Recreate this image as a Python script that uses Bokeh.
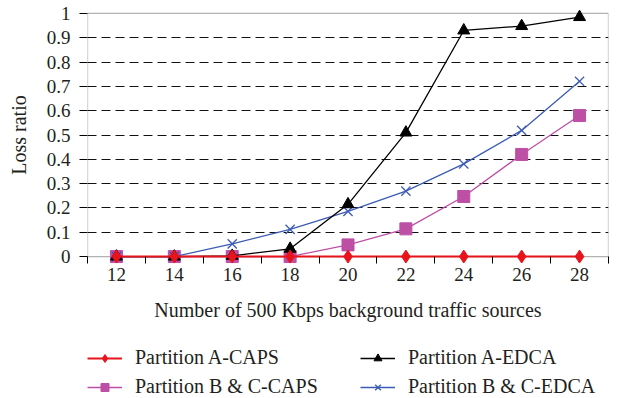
from bokeh.plotting import figure
from bokeh.layouts import column
from bokeh.models import (Range1d, FixedTicker, BoxAnnotation, Legend, LegendItem, ColumnDataSource)
from bokeh.embed import file_html
from bokeh.resources import INLINE

x = [12, 14, 16, 18, 20, 22, 24, 26, 28]
x_tick_labels = ["12", "14", "16", "18", "20", "22", "24", "26", "28"]
a_caps = [0, 0, 0, 0, 0, 0, 0, 0, 0]
a_edca = [0, 0, 0.003, 0.032, 0.215, 0.51, 0.93, 0.948, 0.985]
bc_caps = [0, 0, 0, 0, 0.048, 0.114, 0.247, 0.42, 0.58]
bc_edca = [0, 0, 0.052, 0.112, 0.186, 0.269, 0.381, 0.519, 0.721]
y_ticks = [0, 0.1, 0.2, 0.3, 0.4, 0.5, 0.6, 0.7, 0.8, 0.9, 1.0]
y_tick_labels = ["0", "0.1", "0.2", "0.3", "0.4", "0.5", "0.6", "0.7", "0.8", "0.9", "1"]
series_labels = ["Partition A-CAPS", "Partition B & C-CAPS", "Partition A-EDCA", "Partition B & C-EDCA"]

FONT = "Liberation Serif"
TXT = "#231f20"
RED = "#e8141c"
PINK = "#bd4fa5"
BLUE = "#3b5bb5"

p = figure(width=617, height=340, output_backend="svg", toolbar_location=None,
           x_range=Range1d(11, 29), y_range=Range1d(-0.045, 1.045),
           min_border_left=87, min_border_top=2, min_border_right=9, min_border_bottom=73)
p.outline_line_color = None
p.background_fill_color = "white"

# frame box
p.add_layout(BoxAnnotation(left=11, right=29, bottom=0, top=1, fill_alpha=0,
                           line_color="black", line_width=1.3, level="underlay"))

p.xgrid.visible = False
p.ygrid.ticker = FixedTicker(ticks=y_ticks[1:-1])
p.ygrid.grid_line_color = "#111111"
p.ygrid.grid_line_dash = "9 5"
p.ygrid.grid_line_width = 1

xa = p.xaxis[0]
xa.ticker = FixedTicker(ticks=x, minor_ticks=[11, 13, 15, 17, 19, 21, 23, 25, 27, 29])
xa.major_label_overrides = {v: s for v, s in zip(x, x_tick_labels)}
xa.major_tick_line_color = None
xa.major_tick_out = 0
xa.major_tick_in = 0
xa.minor_tick_line_color = "black"
xa.minor_tick_out = -4
xa.minor_tick_in = 11
xa.axis_line_color = None
xa.major_label_text_font = FONT
xa.major_label_text_font_size = "19px"
xa.major_label_text_color = TXT
xa.major_label_standoff = 0
xa.axis_label = "Number of 500 Kbps background traffic sources"
xa.axis_label_text_font = FONT
xa.axis_label_text_font_size = "20px"
xa.axis_label_text_font_style = "normal"
xa.axis_label_text_color = TXT
xa.axis_label_standoff = 15

ya = p.yaxis[0]
ya.ticker = FixedTicker(ticks=y_ticks)
ya.major_label_overrides = {v: s for v, s in zip(y_ticks, y_tick_labels)}
ya.major_tick_line_color = "black"
ya.major_tick_out = 8
ya.major_tick_in = 0
ya.minor_tick_line_color = None
ya.axis_line_color = None
ya.major_label_text_font = FONT
ya.major_label_text_font_size = "19px"
ya.major_label_text_color = TXT
ya.major_label_standoff = 9
ya.axis_label = "Loss ratio"
ya.axis_label_text_font = FONT
ya.axis_label_text_font_size = "20px"
ya.axis_label_text_font_style = "normal"
ya.axis_label_text_color = TXT
ya.axis_label_standoff = 14

src = ColumnDataSource(dict(x=x, a_caps=a_caps, a_edca=a_edca, bc_caps=bc_caps, bc_edca=bc_edca))

p.line("x", "bc_caps", source=src, color=PINK, line_width=1.3)
p.scatter("x", "bc_caps", source=src, marker="square", size=12, color=PINK)
p.line("x", "bc_edca", source=src, color=BLUE, line_width=1.3)
p.scatter("x", "bc_edca", source=src, marker="x", size=13, line_color=BLUE, line_width=1.3)
p.line("x", "a_edca", source=src, color="black", line_width=1.3)
p.scatter("x", "a_edca", source=src, marker="triangle", size=12, color="black")
p.line("x", "a_caps", source=src, color=RED, line_width=2)
p.scatter("x", "a_caps", source=src, marker="diamond", size=13, color=RED)

# legend strip below the chart (its renderers carry an off-range dummy point only)
q = figure(width=617, height=58, output_backend="svg", toolbar_location=None,
           x_range=Range1d(0, 1), y_range=Range1d(0, 1), min_border=0)
q.axis.visible = False
q.grid.visible = False
q.outline_line_color = None
dummy = ColumnDataSource(dict(x=[-5, -6], y=[-5, -6]))
specs = [(RED, "diamond", 13, 2), (PINK, "square", 12, 1.5), ("black", "triangle", 12, 1.3), (BLUE, "x", 11, 1.3)]
items = []
for lab, (col, mk, sz, lw) in zip(series_labels, specs):
    ln = q.line("x", "y", source=dummy, color=col, line_width=lw)
    if mk == "x":
        sc = q.scatter("x", "y", source=dummy, marker=mk, size=sz, line_color=col, line_width=1.3)
    else:
        sc = q.scatter("x", "y", source=dummy, marker=mk, size=sz, color=col)
    items.append(LegendItem(label=lab, renderers=[ln, sc]))

legend = Legend(items=items, ncols=2, orientation="vertical", location=(0, 0))
legend.label_text_font = FONT
legend.label_text_font_size = "20px"
legend.label_text_color = TXT
legend.border_line_color = None
legend.background_fill_alpha = 0
legend.glyph_width = 35
legend.glyph_height = 20
legend.label_standoff = 13
legend.label_width = 219
legend.label_height = 20
legend.spacing = 6
legend.padding = 0
legend.margin = 0
q.add_layout(legend, "center")

layout = column(p, q, spacing=0)
open("out.html", "w").write(file_html(layout, INLINE))
